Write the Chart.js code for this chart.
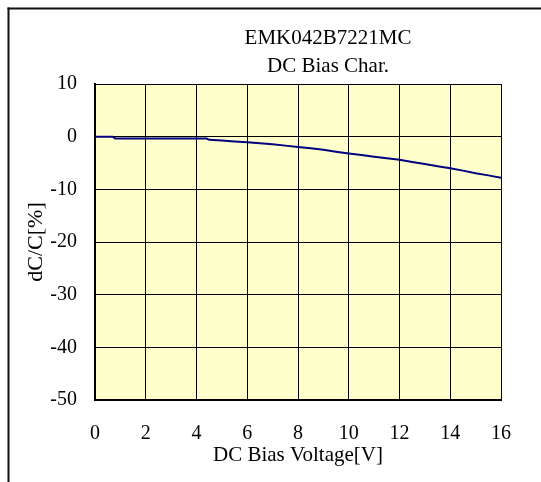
<!DOCTYPE html>
<html>
<head>
<meta charset="utf-8">
<script src="https://cdn.jsdelivr.net/npm/chart.js@4/dist/chart.umd.min.js"></script>
<style>
  html, body { margin: 0; padding: 0; overflow: hidden; background: #fff; }
  #chart-box { width: 541px; height: 482px; position: relative; }
</style>
</head>
<body>
<div id="chart-box"><canvas id="bias-chart"></canvas></div>
<script>
// DC bias curve
const voltages = [0, 0.7, 0.8, 4.4, 4.5, 5, 5.5, 6, 6.5, 7, 7.5, 8, 8.5, 9, 9.5, 10, 10.5, 11, 11.5, 12, 12.5, 13, 13.5, 14, 14.5, 15, 15.5, 16];
const capChange = [0, 0, -0.35, -0.35, -0.6, -0.75, -0.9, -1.05, -1.25, -1.45, -1.7, -1.95, -2.2, -2.5, -2.85, -3.2, -3.5, -3.8, -4.1, -4.4, -4.8, -5.2, -5.6, -6.0, -6.45, -6.95, -7.35, -7.8];
const xTicks = [0, 2, 4, 6, 8, 10, 12, 14, 16];
const yTicks = [10, 0, -10, -20, -30, -40, -50];
const titleLines = ['EMK042B7221MC', 'DC Bias Char.'];

const serif = 'Liberation Serif, Times New Roman, serif';

// yellow plot area + the outer frame (only its left and top edges are on screen)
const plotBackground = {
  id: 'plotBackground',
  beforeDraw(chart) {
    const { ctx, chartArea, width, height } = chart;
    ctx.save();
    ctx.fillStyle = '#FFFFCC';
    ctx.fillRect(chartArea.left, chartArea.top, chartArea.right - chartArea.left, chartArea.bottom - chartArea.top);
    ctx.fillStyle = '#111';
    ctx.fillRect(7.5, 7.5, width, 2);
    ctx.fillRect(7.5, 7.5, 2, height);
    ctx.restore();
  }
};

// two-line title, centred on the (wider) original frame rather than the plot
const chartTitle = {
  id: 'chartTitle',
  afterDraw(chart) {
    const { ctx } = chart;
    ctx.save();
    ctx.fillStyle = '#000';
    ctx.font = '21px ' + serif;
    ctx.textAlign = 'center';
    ctx.textBaseline = 'middle';
    ctx.fillText(titleLines[0], 328, 38);
    ctx.fillText(titleLines[1], 328, 66);
    ctx.restore();
  }
};

const ctx = document.getElementById('bias-chart').getContext('2d');
new Chart(ctx, {
  type: 'line',
  data: {
    datasets: [{
      data: voltages.map((v, i) => ({ x: v, y: capChange[i] })),
      borderColor: '#000080',
      borderWidth: 2,
      pointRadius: 0,
      tension: 0,
      fill: false
    }]
  },
  options: {
    responsive: true,
    maintainAspectRatio: false,
    animation: false,
    layout: { padding: { left: 0, right: 40, top: 84, bottom: 0 } },
    scales: {
      x: {
        type: 'linear',
        min: 0,
        max: 16,
        afterBuildTicks: axis => { axis.ticks = xTicks.map(v => ({ value: v })); },
        afterFit: axis => { axis.height = 82; },
        grid: { color: '#000', lineWidth: 1, drawTicks: false },
        border: { color: '#000', width: 2 },
        ticks: { color: '#000', font: { family: serif, size: 20 }, padding: 22, maxRotation: 0 },
        title: { display: true, text: 'DC Bias Voltage[V]', color: '#000', font: { family: serif, size: 21 }, padding: { top: 0, bottom: 14 } }
      },
      y: {
        min: -50,
        max: 10,
        afterBuildTicks: axis => { axis.ticks = yTicks.map(v => ({ value: v })); },
        afterFit: axis => { axis.width = 95; },
        grid: { color: '#000', lineWidth: 1, drawTicks: false },
        border: { color: '#000', width: 2 },
        ticks: { color: '#000', font: { family: serif, size: 20 }, padding: 18 },
        title: { display: true, text: 'dC/C[%]', color: '#000', font: { family: serif, size: 22 }, padding: { top: 23, bottom: 0 } }
      }
    },
    plugins: {
      legend: { display: false },
      tooltip: { enabled: false },
      title: { display: false }
    }
  },
  plugins: [plotBackground, chartTitle]
});
</script>
</body>
</html>
